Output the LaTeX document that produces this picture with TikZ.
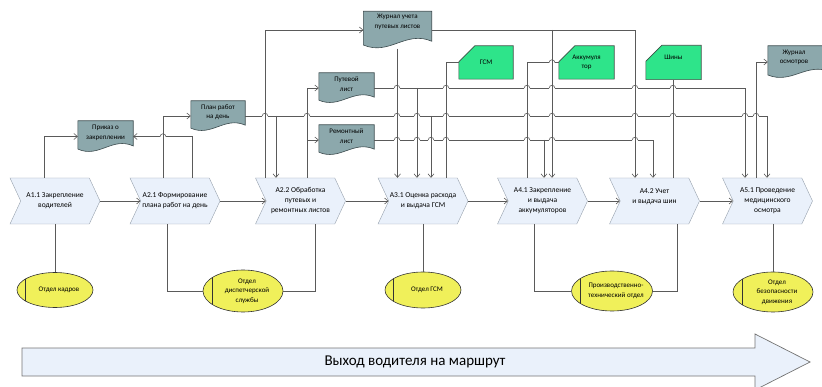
\documentclass[tikz,border=0pt]{standalone}
\usepackage{fontspec}
\setmainfont{Carlito}
\usetikzlibrary{shapes.geometric,shapes.symbols,arrows.meta,backgrounds,calc}

\definecolor{procfill}{RGB}{234,241,251}
\definecolor{procline}{RGB}{150,160,172}
\definecolor{docfill}{RGB}{140,168,172}
\definecolor{docline}{RGB}{60,75,78}
\definecolor{matfill}{RGB}{46,228,138}
\definecolor{matline}{RGB}{60,80,70}
\definecolor{orgfill}{RGB}{240,240,90}
\definecolor{connline}{RGB}{90,90,90}

\tikzset{
  proc/.style={signal, signal to=east, signal from=west, signal pointer angle=130,
    draw=procline, fill=procfill, minimum width=90pt, minimum height=46pt,
    inner sep=0pt, align=center, font=\fontsize{7.5}{10}\selectfont},
  docnode/.style={rectangle, inner sep=0pt},
  doctext/.style={align=center, font=\fontsize{7}{9.5}\selectfont},
  docshape/.style={draw=docline, fill=docfill, line width=0.6pt},
  matnode/.style={rectangle, inner sep=0pt, align=center, font=\fontsize{7}{9.5}\selectfont},
  matshape/.style={draw=matline, fill=matfill, line width=0.6pt},
  orgunit/.style={ellipse, draw=black!80, fill=orgfill, inner sep=0pt, line width=0.6pt,
    path picture={\draw[black!80, line width=0.6pt]
      ($(path picture bounding box.south west)!0.11!(path picture bounding box.south east)$) --
      ($(path picture bounding box.north west)!0.11!(path picture bounding box.north east)$);}},
  orgtext/.style={xshift=4pt, align=center, font=\fontsize{7}{9.5}\selectfont},
  conn/.style={draw=connline, line width=0.6pt},
  arr/.style={conn, -{Straight Barb[length=3.5pt,width=6pt]}}
}

% line jump over a vertical connector
\newcommand\hop[2]{%
  \fill[white] (#1-2.8,#2-1.3) rectangle (#1+2.8,#2+1.3);
  \draw[conn] (#1,#2-1.8) -- (#1,#2+1.8);
  \draw[conn] (#1-2.8,#2) .. controls (#1-2.8,#2-3.6) and (#1+2.8,#2-3.6) .. (#1+2.8,#2);
}

\begin{document}
\begin{tikzpicture}[x=1pt,y=-1pt]
\clip (0,0) rectangle (822,387);

% processes
\node[proc] (a11) at (55,201) {A1.1 Закрепление\\водителей};
\node[proc] (a21) at (175,201) {A2.1 Формирование\\плана работ на день};
\node[proc] (a22) at (300.5,201) {A2.2 Обработка\\путевых и\\ремонтных листов};
\node[proc] (a31) at (423,201) {A3.1 Оценка расхода\\и выдача ГСМ};
\node[proc] (a41) at (542.5,201) {A4.1 Закрепление\\и выдача\\аккумуляторов};
\node[proc] (a42) at (654.5,201) {A4.2 Учет\\и выдача шин\\~};
\node[proc] (a51) at (767.5,201) {A5.1 Проведение\\медицинского\\осмотра};

% documents
\node[docnode, minimum width=55pt, minimum height=31pt, label={[doctext,yshift=3.5pt]center:Приказ о\\закреплении}] (prikaz) at (105.5,136.5) {};
\node[docnode, minimum width=54pt, minimum height=30pt, label={[doctext,yshift=4pt]center:План работ\\на день}] (plan) at (218,116) {};
\node[docnode, minimum width=68pt, minimum height=37pt, label={[doctext,yshift=8pt]center:Журнал учета\\путевых листов}] (jrnl) at (397.5,30) {};
\node[docnode, minimum width=55pt, minimum height=30pt, label={[doctext,yshift=4pt]center:Путевой\\лист}] (put) at (346.5,88) {};
\node[docnode, minimum width=55pt, minimum height=30pt, label={[doctext,yshift=4pt]center:Ремонтный\\лист}] (rem) at (346.5,140) {};
\node[docnode, minimum width=62pt, minimum height=32pt, label={[doctext,yshift=4.5pt,xshift=-5pt]center:Журнал\\осмотров}] (josm) at (799,62) {};

% materials
\node[matnode, minimum width=54pt, minimum height=33pt] (gsm) at (486,62.5) {ГСМ};
\node[matnode, minimum width=55pt, minimum height=33pt] (akk) at (586.5,62.5) {Аккумуля\\тор};
\node[matnode, minimum width=55pt, minimum height=34pt] (shin) at (673.5,62.5) {Шины\\[1pt]~};

% departments
\node[orgunit, minimum width=76pt, minimum height=35pt, label={[orgtext]center:Отдел кадров}] (okadr) at (55,290) {};
\node[orgunit, minimum width=80pt, minimum height=42pt, label={[orgtext]center:Отдел\\диспетчерской\\службы}] (odisp) at (243,291) {};
\node[orgunit, minimum width=76pt, minimum height=36pt, label={[orgtext]center:Отдел ГСМ}] (ogsm) at (423,290) {};
\node[orgunit, minimum width=81pt, minimum height=40pt, label={[orgtext]center:Производственно-\\технический отдел}] (opto) at (612,291) {};
\node[orgunit, minimum width=80pt, minimum height=40pt, label={[orgtext]center:Отдел\\безопасности\\движения}] (obdd) at (773,292) {};

\begin{scope}[on background layer]
\foreach \d in {prikaz,plan,jrnl,put,rem,josm}
  \draw[docshape] let \p1=(\d.north west), \p2=(\d.south east), \n1={\y1-\y2} in
    (\p1) -- (\x2,\y1) -- (\x2,{\y2+0.2*\n1})
    .. controls ({\x1+0.62*(\x2-\x1)},{\y2+0.5*\n1}) and ({\x1+0.38*(\x2-\x1)},{\y2-0.2*\n1})
    .. (\x1,{\y2+0.1*\n1}) -- cycle;
\foreach \m in {gsm,akk,shin}
  \draw[matshape] let \p1=(\m.north west), \p2=(\m.south east) in
    (\x1,{\y1-16pt}) -- ({\x1+16pt},\y1) -- (\x2,\y1) -- (\x2,\y2) -- (\x1,\y2) -- cycle;
\end{scope}

% ports
\coordinate (a11t) at (44,0 |- a11.north);
\coordinate (a21t1) at (163,0 |- a21.north);
\coordinate (a21t2) at (192,0 |- a21.north);
\coordinate (a22t1) at (265,0 |- a22.north);
\coordinate (a22t2) at (276,0 |- a22.north);
\coordinate (a22t3) at (307,0 |- a22.north);
\coordinate (a31t1) at (jrnl.south |- a31.north);
\coordinate (a31t2) at (417,0 |- a31.north);
\coordinate (a31t3) at (431,0 |- a31.north);
\coordinate (a31t4) at (446,0 |- a31.north);
\coordinate (a41t1) at (527,0 |- a41.north);
\coordinate (a41t2) at (544,0 |- a41.north);
\coordinate (a41t3) at (552,0 |- a41.north);
\coordinate (a42t1) at (635,0 |- a42.north);
\coordinate (a42t2) at (653,0 |- a42.north);
\coordinate (a42t3) at (shin.south |- a42.north);
\coordinate (a51t1) at (745,0 |- a51.north);
\coordinate (a51t2) at (756,0 |- a51.north);
\coordinate (a51t3) at (767,0 |- a51.north);
\coordinate (a21b) at (167,0 |- a21.south);
\coordinate (a22b) at (315,0 |- a22.south);
\coordinate (a41b) at (534,0 |- a41.south);
\coordinate (a42b) at (677,0 |- a42.south);
\coordinate (a51b) at (obdd.north |- a51.south);

% flow
\draw[arr] (a11.east) -- (a21.west);
\draw[arr] (a21.east) -- (a22.west);
\draw[arr] (a22.east) -- (a31.west);
\draw[arr] (a31.east) -- (a41.west);
\draw[arr] (a41.east) -- (a42.west);
\draw[arr] (a42.east) -- (a51.west);

% documents
\draw[arr] (a11t) |- (prikaz.west);
\draw[arr] (a21t2) |- (prikaz.east);
\draw[arr] (a21t1) |- (plan.west);
\draw[arr] (plan.east) -| (a51t3);
\draw[arr] (a22t2 |- plan.east) -- (a22t2);
\draw[arr] (a31t3 |- plan.east) -- (a31t3);
\draw[arr] (a22t1) |- (jrnl.west);
\draw[arr] (a22t3) |- (put.west);
\draw[arr] (a22t3 |- rem.west) -- (rem.west);
\draw[arr] (jrnl.south) -- (a31t1);
\draw[arr] (jrnl.east) -| (a42t1);
\draw[arr] (a41t3 |- jrnl.east) -- (a41t3);
\draw[arr] (put.east) -| (a51t1);
\draw[arr] (a31t2 |- put.east) -- (a31t2);
\draw[arr] (rem.east) -| (a42t2);
\draw[arr] (a41t2 |- rem.east) -- (a41t2);
\draw[arr] (a51t2) |- (josm.west);
\draw[conn] (a31t4) |- (gsm.west);
\draw[conn] (a41t1) |- (akk.west);
\draw[conn] (a42t3) -- (shin.south);

% departments
\draw[conn] (a11.south) -- (okadr.north);
\draw[conn] (a21b) |- (odisp.west);
\draw[conn] (a22b) |- (odisp.east);
\draw[conn] (a31.south) -- (ogsm.north);
\draw[conn] (a41b) |- (opto.west);
\draw[conn] (a42b) |- (opto.east);
\draw[conn] (a51b) -- (obdd.north);

% jumps
\hop{163}{136.5}
\foreach \x in {265,307,397,417,446,527,552,635,673,745,756} {\hop{\x}{116}}
\foreach \x in {397,446,527,552,635,673} {\hop{\x}{88}}
\foreach \x in {397,417,431,446,527,552,635} {\hop{\x}{140}}
\hop{552}{62.5}

% route
\draw[draw=black!55, fill=procfill, line width=0.7pt] (22,348) -- (755,348) -- (755,334) -- (810,362) -- (755,390) -- (755,376) -- (22,376) -- cycle;
\node[font=\fontsize{15}{17}\selectfont] (route) at (415,362) {Выход водителя на маршрут};
\end{tikzpicture}
\end{document}
